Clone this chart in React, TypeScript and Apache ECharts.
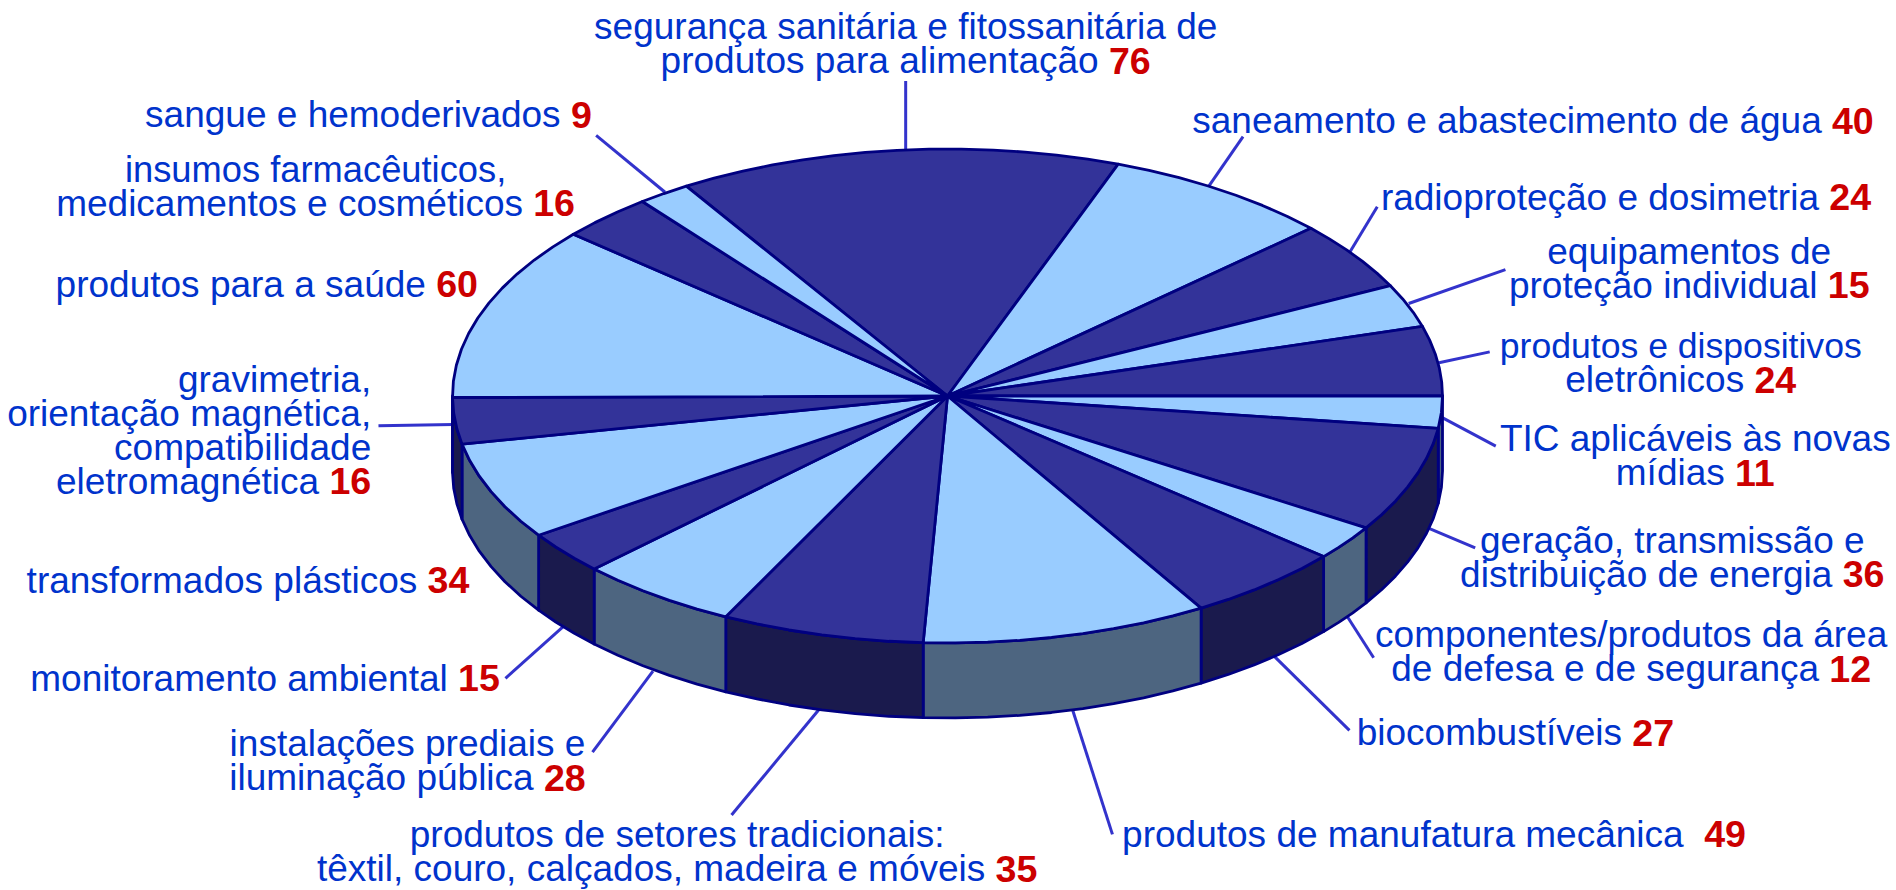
import React, { useEffect, useRef } from "react";
import * as echarts from "echarts";

const categories = [
  "segurança sanitária e fitossanitária de\nprodutos para alimentação",
  "saneamento e abastecimento de água",
  "radioproteção e dosimetria",
  "equipamentos de\nproteção individual",
  "produtos e dispositivos\neletrônicos",
  "TIC aplicáveis às novas\nmídias",
  "geração, transmissão e\ndistribuição de energia",
  "componentes/produtos da área\nde defesa e de segurança",
  "biocombustíveis",
  "produtos de manufatura mecânica ",
  "produtos de setores tradicionais:\ntêxtil, couro, calçados, madeira e móveis",
  "instalações prediais e\niluminação pública",
  "monitoramento ambiental",
  "transformados plásticos",
  "gravimetria,\norientação magnética,\ncompatibilidade\neletromagnética",
  "produtos para a saúde",
  "insumos farmacêuticos,\nmedicamentos e cosméticos",
  "sangue e hemoderivados",
];
const values = [76, 40, 24, 15, 24, 11, 36, 12, 27, 49, 35, 28, 15, 34, 16, 60, 16, 9];

// layout, in pixels: [anchor x, middle y, text alignment, first-line font size]
const S = 1896 / 1568;
const BASE_FONT = 37;
const labelLayout: [number, number, string, number?][] = [
  [749, 36, "center"],
  [986, 100, "left"],
  [1142, 163, "left"],
  [1397, 222, "center"],
  [1390, 300, "center", 35.6],
  [1402, 377, "center"],
  [1383, 461, "center"],
  [1349, 539, "center"],
  [1122, 606, "left"],
  [928, 690, "left"],
  [560, 704.5, "center"],
  [337, 629, "center"],
  [25, 561, "left"],
  [22, 480, "left"],
  [307, 356, "right"],
  [46, 235, "left"],
  [261, 154, "center", 36.3],
  [120, 95, "left"],
];
const leaderLines: number[][] = [
  [749, 67, 749, 128],
  [1028, 113, 999, 155],
  [1139, 171, 1116, 209],
  [1245, 223, 1165, 251],
  [1232, 291, 1190, 300],
  [1237, 369, 1192, 345],
  [1220, 453, 1170, 432],
  [1136, 544, 1113, 508],
  [1116, 604, 1052, 541],
  [920, 690, 887, 587],
  [605, 674, 678, 586],
  [490, 622, 540, 555],
  [418, 561, 466, 518],
  [313, 352, 375, 351],
  [493, 112, 550, 159],
];

const CX = 947.5;
const CY = 396;
const RX = 495;
const RY = 247;
const DEPTH = 75;
const START_ANGLE = -32.28;
const TILT = 0.6;
const TOP_COLORS = ["#333399", "#99CCFF"];
const SIDE_COLORS = ["#1A1A4D", "#4D6580"];
const BORDER = "#000080";
const FONT = "'Liberation Sans', Arial, sans-serif";

const total = values.reduce((a, b) => a + b, 0);
const tilt = (a: number) => {
  const c = Math.cos((a * Math.PI) / 180);
  return a + TILT * c * c;
};
let cum = 0;
const sliceData = values.map((v, i) => {
  const a0 = tilt(START_ANGLE + (cum / total) * 360);
  cum += v;
  const a1 = tilt(START_ANGLE + (cum / total) * 360);
  return [a0, a1, i % 2];
});

const pt = (a: number, dy = 0) => {
  const r = (a * Math.PI) / 180;
  return [CX + RX * Math.sin(r), CY - RY * Math.cos(r) + dy];
};
const arc = (a0: number, a1: number, dy = 0) => {
  const n = Math.max(1, Math.ceil((a1 - a0) / 4));
  const out: number[][] = [];
  for (let i = 0; i <= n; i++) out.push(pt(a0 + ((a1 - a0) * i) / n, dy));
  return out;
};

const renderSlice = (_: any, api: any) => {
  const a0 = api.value(0);
  const a1 = api.value(1);
  const c = api.value(2);
  const children: any[] = [];
  const s0 = Math.max(a0, 90);
  const s1 = Math.min(a1, 270);
  if (s1 > s0) {
    children.push({
      type: "polygon",
      shape: { points: [...arc(s0, s1), ...arc(s0, s1, DEPTH).reverse()] },
      style: { fill: SIDE_COLORS[c], stroke: BORDER, lineWidth: 2.8, lineJoin: "round" },
    });
  }
  children.push({
    type: "polygon",
    shape: { points: [[CX, CY], ...arc(a0, a1)] },
    style: { fill: TOP_COLORS[c], stroke: BORDER, lineWidth: 2.8, lineJoin: "round" },
  });
  return { type: "group", children };
};

const labelGraphics = categories.map((name, i) => {
  const [x, y, align, firstSize] = labelLayout[i];
  const lines = name.split("\n").map((l, j) => `{${j === 0 && firstSize ? "f" : "n"}|${l}}`);
  lines[lines.length - 1] = lines[lines.length - 1].replace(/\}$/, " }") + `{v|${values[i]}}`;
  return {
    type: "text",
    x: x * S,
    y: y * S,
    z: 10,
    style: {
      text: lines.join("\n"),
      align,
      verticalAlign: "middle",
      textAlign: align,
      textVerticalAlign: "middle",
      rich: {
        n: { fontFamily: FONT, fontSize: BASE_FONT, lineHeight: 34, fill: "#0033CC", color: "#0033CC" },
        f: { fontFamily: FONT, fontSize: firstSize || BASE_FONT, lineHeight: 34, fill: "#0033CC", color: "#0033CC" },
        v: { fontFamily: FONT, fontSize: 37.6, lineHeight: 34, fontWeight: "bold", fill: "#CC0000", color: "#CC0000" },
      },
    },
  };
});

const lineGraphics = leaderLines.map((l) => ({
  type: "line",
  z: 5,
  shape: { x1: l[0] * S, y1: l[1] * S, x2: l[2] * S, y2: l[3] * S },
  style: { stroke: "#3333CC", lineWidth: 3 },
}));

export default function App() {
  const ref = useRef<HTMLDivElement>(null);
  useEffect(() => {
    document.body.style.margin = "0";
    const chart = echarts.init(ref.current!, undefined, { renderer: "svg" });
    chart.setOption({
      animation: false,
      backgroundColor: "#FFFFFF",
      series: [
        {
          type: "custom",
          coordinateSystem: "none",
          silent: true,
          z: 6,
          data: sliceData,
          renderItem: renderSlice,
        },
      ],
      graphic: [...lineGraphics, ...labelGraphics],
    });
    return () => chart.dispose();
  }, []);
  return <div ref={ref} style={{ width: 1896, height: 890 }} />;
}
